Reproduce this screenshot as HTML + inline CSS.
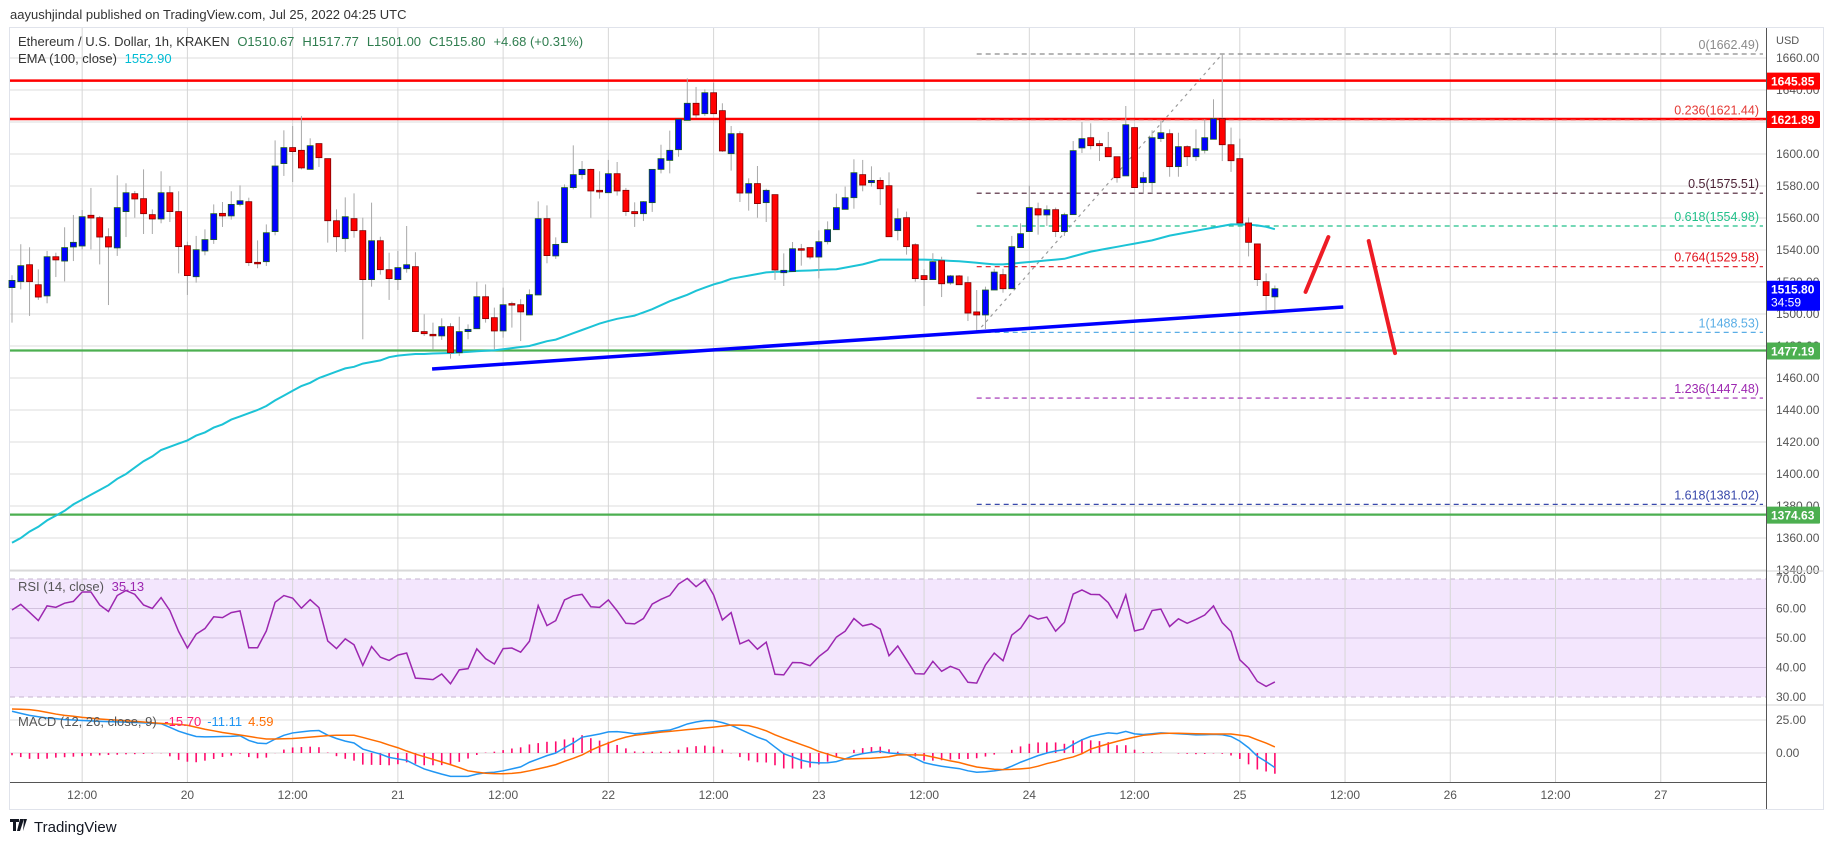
<!DOCTYPE html>
<html><head><meta charset="utf-8"><style>
html,body{margin:0;padding:0;background:#fff;}
svg{display:block;font-family:"Liberation Sans",sans-serif;}
</style></head><body>
<svg id="chart" width="1834" height="845" viewBox="0 0 1834 845" xmlns="http://www.w3.org/2000/svg">
<text x="10" y="19" font-size="13" fill="#333">aayushjindal published on TradingView.com, Jul 25, 2022 04:25 UTC</text>
<rect x="9.5" y="27.5" width="1814" height="782" fill="#fff" stroke="#e0e3eb"/>
<rect x="10" y="571" width="1756" height="134" fill="none"/>
<rect x="10" y="579" width="1756" height="118" fill="#f3e6fd"/>
<g id="grid"></g>
<g id="main"></g>
<g id="rsi"></g>
<g id="macd"></g>
<g id="axes"></g>
<line x1="10" y1="571" x2="1823" y2="571" stroke="#d6d6d6"/>
<line x1="10" y1="705" x2="1823" y2="705" stroke="#d6d6d6"/>
<line x1="10" y1="782.5" x2="1766" y2="782.5" stroke="#555"/>
<line x1="1766.5" y1="28" x2="1766.5" y2="809" stroke="#555"/>
<text x="18" y="46" font-size="13" fill="#333">Ethereum / U.S. Dollar, 1h, KRAKEN <tspan fill="#2f7d4f" dx="4">O1510.67</tspan><tspan fill="#2f7d4f" dx="8">H1517.77</tspan><tspan fill="#2f7d4f" dx="8">L1501.00</tspan><tspan fill="#2f7d4f" dx="8">C1515.80</tspan><tspan fill="#2f7d4f" dx="8">+4.68 (+0.31%)</tspan></text>
<text x="18" y="63" font-size="13" fill="#333">EMA (100, close) <tspan fill="#00bcd4" dx="4">1552.90</tspan></text>
<text x="18" y="591" font-size="13" fill="#555">RSI (14, close) <tspan fill="#9c27b0" dx="4">35.13</tspan></text>
<text x="18" y="726" font-size="13" fill="#555">MACD (12, 26, close, 9) <tspan fill="#ff1a75" dx="4">-15.70</tspan><tspan fill="#2196f3" dx="6">-11.11</tspan><tspan fill="#ff6d00" dx="6">4.59</tspan></text>
<g>
<path d="M10 819 h9 v3 h-3 v9 h-3 v-9 h-3z M20 819 h4 l-4 12 h-3z M24 819 h3 l-4 12z" fill="#131722"/>
<text x="34" y="832" font-size="15" fill="#131722">TradingView</text>
</g>
</svg>
<script>
const opens=[1516.5,1520.2,1530.8,1518.3,1511.3,1535.8,1533.1,1541.9,1542.5,1561.7,1560.2,1548.3,1541.3,1564.0,1575.2,1572.1,1562.1,1559.4,1575.8,1564.0,1542.7,1523.3,1539.4,1546.5,1562.9,1561.3,1568.5,1570.2,1532.3,1532.7,1551.5,1594.0,1604.0,1602.3,1590.4,1606.5,1597.1,1558.3,1547.1,1559.6,1552.1,1521.5,1545.8,1527.7,1521.5,1528.3,1529.6,1489.0,1487.3,1486.3,1492.1,1475.8,1489.0,1490.8,1510.8,1497.7,1489.4,1506.5,1505.8,1499.4,1511.9,1559.6,1536.3,1544.6,1579.0,1587.1,1590.4,1577.3,1575.8,1587.7,1577.3,1564.0,1562.7,1569.6,1590.4,1596.0,1602.7,1621.0,1631.7,1625.2,1638.3,1627.1,1600.2,1612.7,1575.6,1581.5,1569.6,1574.6,1525.8,1526.5,1540.8,1541.5,1535.6,1545.2,1552.7,1565.4,1572.7,1587.1,1582.1,1583.5,1580.2,1552.1,1560.2,1543.3,1524.0,1521.5,1533.3,1519.4,1523.8,1519.6,1501.3,1499.4,1515.0,1524.6,1515.8,1541.5,1551.5,1565.8,1561.9,1565.2,1551.5,1562.1,1603.8,1610.2,1606.5,1604.0,1598.3,1586.3,1616.5,1582.1,1582.1,1609.6,1612.7,1592.1,1604.6,1598.3,1602.3,1609.2,1622.1,1605.8,1597.1,1556.9,1543.8,1520.2,1510.7];
const highs=[1524.2,1543.6,1541.7,1527.9,1539.4,1538.3,1554.2,1561.9,1565.0,1578.8,1561.3,1553.6,1586.7,1581.7,1576.9,1590.4,1565.4,1589.2,1580.0,1576.7,1545.2,1548.8,1552.9,1568.5,1570.0,1576.7,1580.4,1572.7,1546.0,1556.0,1608.5,1614.8,1617.5,1623.8,1609.8,1606.5,1597.1,1565.4,1572.9,1575.4,1560.2,1569.6,1548.3,1538.3,1539.4,1555.0,1538.6,1499.8,1494.6,1497.3,1494.2,1498.3,1493.5,1520.2,1518.5,1504.0,1516.5,1507.7,1509.2,1515.4,1570.4,1567.9,1547.9,1581.0,1605.4,1595.6,1590.8,1589.2,1596.3,1595.0,1578.8,1569.8,1570.6,1590.4,1605.8,1614.6,1621.7,1647.3,1641.9,1640.4,1644.6,1631.7,1617.5,1614.2,1584.8,1592.5,1578.3,1574.6,1537.9,1545.0,1543.8,1541.5,1552.3,1557.9,1575.2,1579.6,1596.7,1596.3,1592.3,1585.4,1588.5,1566.0,1564.0,1544.2,1528.0,1538.0,1535.8,1524.4,1524.4,1523.5,1515.0,1517.1,1528.3,1528.3,1548.8,1556.7,1580.2,1569.6,1567.9,1566.5,1563.3,1608.1,1620.0,1619.2,1608.5,1613.8,1598.3,1630.0,1616.5,1588.8,1614.8,1620.6,1615.4,1613.3,1605.4,1615.4,1621.7,1634.2,1662.5,1616.5,1609.6,1560.4,1543.8,1525.4,1517.8];
const lows=[1494.6,1515.4,1498.8,1508.8,1506.7,1523.1,1520.4,1533.1,1540.4,1540.4,1531.0,1505.6,1536.3,1548.1,1560.2,1550.0,1550.0,1556.7,1557.5,1525.4,1511.9,1519.6,1536.7,1543.8,1554.4,1559.0,1567.3,1530.0,1528.6,1530.0,1549.2,1586.3,1582.5,1590.4,1590.4,1591.9,1544.6,1538.8,1538.8,1547.7,1484.2,1517.1,1524.6,1508.8,1515.0,1525.8,1489.0,1486.3,1478.0,1483.8,1472.1,1473.8,1484.2,1490.8,1494.6,1478.0,1485.2,1491.5,1483.1,1499.4,1511.9,1531.7,1534.4,1544.6,1577.9,1584.2,1560.2,1572.1,1575.8,1574.0,1561.3,1554.4,1558.1,1563.8,1587.9,1587.9,1598.3,1621.0,1622.7,1623.8,1625.2,1601.3,1589.6,1570.0,1564.6,1560.2,1557.5,1521.3,1517.5,1526.5,1530.2,1534.2,1522.3,1543.5,1552.7,1565.4,1565.8,1576.7,1579.6,1568.1,1548.3,1546.0,1537.1,1520.2,1505.0,1521.5,1510.6,1518.3,1518.3,1495.6,1488.5,1490.6,1515.0,1513.3,1515.8,1541.5,1551.5,1549.6,1555.0,1548.1,1548.8,1562.1,1600.6,1602.9,1595.6,1598.3,1582.1,1586.3,1579.0,1575.0,1575.4,1607.5,1585.8,1585.8,1592.5,1595.6,1600.4,1609.2,1595.6,1588.8,1556.9,1536.0,1517.5,1502.5,1501.0];
const closes=[1521.0,1530.2,1520.2,1510.6,1535.8,1533.8,1541.5,1544.8,1560.8,1560.0,1548.1,1541.9,1566.5,1575.8,1571.9,1562.7,1559.4,1575.8,1564.0,1542.1,1524.0,1540.2,1546.5,1562.7,1561.3,1568.5,1570.8,1532.1,1531.5,1550.8,1592.5,1604.0,1601.5,1591.3,1605.2,1597.7,1558.3,1548.3,1560.8,1552.1,1521.5,1545.8,1527.7,1522.1,1529.0,1530.8,1489.0,1487.7,1486.5,1492.1,1475.8,1489.0,1490.4,1510.8,1497.1,1489.4,1505.8,1506.3,1501.3,1512.1,1559.6,1536.5,1543.5,1579.0,1587.1,1590.4,1576.9,1576.3,1587.7,1576.9,1564.0,1562.7,1570.2,1590.4,1597.1,1602.3,1621.7,1631.7,1624.4,1638.3,1625.2,1601.9,1612.7,1575.6,1581.5,1569.0,1577.3,1527.5,1527.3,1540.8,1540.0,1535.6,1545.2,1552.7,1566.5,1572.7,1588.3,1580.6,1583.5,1578.3,1548.3,1559.6,1542.1,1522.1,1521.5,1532.7,1518.9,1523.8,1518.3,1500.6,1499.4,1515.0,1526.2,1515.8,1542.1,1550.2,1566.5,1561.9,1565.2,1551.5,1562.1,1602.1,1609.6,1605.2,1605.2,1598.3,1585.2,1618.3,1579.0,1585.2,1610.2,1613.3,1592.1,1604.6,1598.3,1603.3,1610.2,1622.1,1605.8,1595.8,1556.9,1544.8,1521.5,1511.5,1515.8];
const ema=[1357,1360,1364,1367,1371,1374,1377,1381,1384,1387,1390,1393,1397,1400,1404,1408,1411,1415,1417,1419,1421,1424,1426,1429,1431,1434,1436,1438,1440,1442.5,1446,1449,1452,1455,1457,1460,1462,1464,1466,1467,1469,1470,1471,1473,1474,1474.5,1475,1475,1475.3,1475.5,1475.6,1476,1476.3,1476.7,1477,1477.3,1478,1478.7,1479.4,1480,1481.5,1483,1484,1486,1488,1490,1492,1494,1495.6,1497,1498,1499,1501,1503,1505.5,1508,1510,1512,1514.5,1516.5,1518.5,1520,1522,1523,1524,1525,1526,1526.3,1526.5,1526.8,1527,1527.2,1527.5,1527.8,1528,1529,1530,1531,1532.5,1534,1534,1534,1534,1534,1534,1533.8,1533.5,1533.2,1533,1532.5,1532,1531.5,1531,1531,1531.5,1532,1532.5,1533,1533.5,1534,1534.5,1536,1537.5,1539,1540,1541,1542,1543,1544,1545,1546,1547.5,1549,1550,1551,1552,1553,1554,1555,1556,1556,1555.8,1555.4,1554.5,1553];
const rsi=[59.5,61.4,58.7,55.9,60.9,60.4,61.8,62.4,65.6,65.6,61.2,59.0,64.4,66.1,64.8,61.2,60.0,63.7,59.3,52.2,46.6,51.3,53.2,57.2,56.9,58.6,59.2,46.7,46.7,52.4,62.1,64.4,63.5,60.1,63.0,60.3,49.0,46.4,49.7,47.7,40.7,47.1,43.5,42.4,44.2,44.9,36.4,36.2,35.9,37.8,34.5,39.2,39.6,46.3,43.0,41.2,46.4,46.6,45.2,48.9,61.0,54.2,55.9,62.9,64.3,64.8,60.6,60.4,62.9,59.2,55.0,54.8,56.6,61.5,63.1,64.4,68.3,70.2,67.4,69.7,64.6,56.1,58.6,48.0,49.3,46.2,48.6,37.7,37.5,41.7,41.6,40.6,43.7,46.0,50.3,52.3,56.6,54.1,54.8,53.0,44.0,47.3,42.6,37.9,37.8,42.1,38.7,40.4,39.2,35.0,34.7,40.9,44.9,42.3,51.0,53.3,57.7,56.4,57.1,52.3,55.3,64.9,66.3,64.8,64.7,62.0,56.9,64.6,52.4,53.1,59.3,59.8,53.9,56.5,55.0,56.3,57.8,60.9,55.2,52.2,42.6,39.8,35.3,33.6,35.1];
const macdLine=[31.6,30,28.5,27.5,26.5,26,25.3,25,24.6,24.3,24,23.8,23.6,23.4,23.1,22.8,22.5,22.2,19.5,16.5,14.4,12.5,12.2,12.3,12.5,12.6,13.1,9.5,7.5,7.1,10.5,13.4,15.2,16,16.8,17,13.5,11,9,7.6,3,1,-0.8,-3.3,-4.5,-5.6,-9,-12.1,-14.1,-16,-17.7,-17.7,-17.7,-16,-15,-14.6,-13.5,-12,-10.5,-7,-4.5,-2,0,4,7.6,12,13.2,14.4,16,16.2,15.5,14.6,15.2,16,16.8,17.4,19.5,22,23.5,24.5,24.5,23,21,18,15,12,9.6,4.5,-0.5,-3,-5.5,-7,-7.5,-7.4,-6.5,-4.5,-2,-0.5,0.5,1.3,0,-0.5,-1.3,-4,-7.3,-8.8,-10,-11,-11.8,-13.5,-14.6,-14.2,-13.5,-12.6,-10,-7,-4.5,-2,0,1.5,2.5,6.5,10,12.6,14,15.2,14.7,16.4,14.5,14,14.6,15.2,15,14.6,14.2,13.7,13.8,14.1,13.8,12.5,9,4,-2.5,-6.5,-11.1];
const signalLine=[33.3,33.1,32.9,32,30.8,29.5,28.5,27.8,27,26.4,25.8,25.3,24.9,24.4,24,23.5,22.9,22.4,22,21.7,21,19.5,18,16.8,15.5,14.6,13.6,12.6,11.5,10.6,10.6,10.8,11,11.5,12,12.6,13.2,13.4,13.4,13.4,11.8,10,8.3,6,4,1.5,-0.8,-2.8,-4.8,-6.8,-8.8,-11,-13.5,-14.5,-15.3,-15.6,-15.7,-15.4,-14.8,-13.5,-12,-10.5,-8.8,-6.3,-4,-1.5,2,5,7.5,10.1,12,13.4,14.2,15,15.8,16.4,17,17.7,18.3,18.9,19.6,20.4,21.2,21.1,20.7,19,16.8,13.8,11.2,8.8,6.4,4,1.2,-0.8,-3,-4.5,-4.4,-4.2,-4,-3.5,-2.8,-1.5,-1.4,-1.4,-1.6,-3,-4.5,-6,-7.2,-9,-10.6,-11.5,-12.3,-12.6,-12.4,-12,-11.5,-10,-8,-6.5,-4.5,-3,-0.5,3,5,7,8.8,10.5,12,13.4,14,14.8,15,15,14.8,14.6,14.5,14.4,14.4,14.4,13.5,12.6,10,7.5,4.6];
const priceTicks=[1340,1360,1380,1400,1420,1440,1460,1480,1500,1520,1540,1560,1580,1600,1620,1640,1660];
const rsiTicks=[30,40,50,60,70];
const macdTicks=[0,25];
const timeTicks=[[8,"12:00"],[20,"20"],[32,"12:00"],[44,"21"],[56,"12:00"],[68,"22"],[80,"12:00"],[92,"23"],[104,"12:00"],[116,"24"],[128,"12:00"],[140,"25"],[152,"12:00"],[164,"26"],[176,"12:00"],[188,"27"]];
const hLevels=[[1645.85,"#ff0000","resistance-1645"],[1621.89,"#ff0000","resistance-1621"],[1477.19,"#4caf50","support-1477"],[1374.63,"#4caf50","support-1374"]];
const fibLow=1488.53, fibHigh=1662.49, fibStartIdx=110, fibEndIdx=138;
const fibLevels=[0,0.236,0.5,0.618,0.764,1,1.236,1.618];
const fibColors=["#8a8a8a","#e53935","#4a1f33","#22c08a","#e0101a","#5aaee6","#9c27b0","#3949ab"];
const trendline=[[47.9,1465.6],[151.8,1504.4]];
const arrows=[[[147.5,1513.8],[150.1,1548.1]],[[154.7,1545.6],[157.7,1475.6]]];

const NS="http://www.w3.org/2000/svg";
const X=i=>12+8.77*i;
const Y=p=>154+(1600-p)*1.6;
const RY=v=>579+(70-v)*2.95;
const MY=v=>753-v*1.32;
function mk(tag,attrs,parent,txt){const e=document.createElementNS(NS,tag);for(const k in attrs)e.setAttribute(k,attrs[k]);if(txt!==undefined)e.textContent=txt;parent.appendChild(e);return e;}
const grid=document.getElementById('grid'),main=document.getElementById('main'),rsiG=document.getElementById('rsi'),macdG=document.getElementById('macd'),axes=document.getElementById('axes');

// grid
priceTicks.forEach(p=>{const l=mk('line',{x1:10,x2:1766,y1:Y(p),y2:Y(p),stroke:'#dcdcdc'},grid);


const t=mk('text',{x:1776,y:Y(p)+4,'font-size':12,fill:'#555'},axes,p.toFixed(2));

});
rsiTicks.forEach(v=>{const l=mk('line',{x1:10,x2:1766,y1:RY(v),y2:RY(v),stroke:(v==30||v==70)?'#c4b4cf':'#d2c2de','stroke-dasharray':(v==30||v==70)?'5,4':''},grid);


const t=mk('text',{x:1776,y:RY(v)+4,'font-size':12,fill:'#555'},axes,v.toFixed(2));

});
macdTicks.forEach(v=>{const l=mk('line',{x1:10,x2:1766,y1:MY(v),y2:MY(v),stroke:'#dcdcdc'},grid);


const t=mk('text',{x:1776,y:MY(v)+4,'font-size':12,fill:'#555'},axes,v.toFixed(2));

});
timeTicks.forEach(([i,lab])=>{const l=mk('line',{x1:X(i),x2:X(i),y1:28,y2:782,stroke:'#d6d6d6'},grid);


const t=mk('text',{x:X(i),y:799,'font-size':12,fill:'#555','text-anchor':'middle'},axes,lab);

});
const usd=mk('text',{x:1776,y:44,'font-size':11,fill:'#555'},axes,'USD');



// horizontal levels
hLevels.forEach(([p,c,n])=>{const l=mk('line',{x1:10,x2:1766,y1:Y(p),y2:Y(p),stroke:c,'stroke-width':c=='#ff0000'?2.5:2.2},main);

});

// fib
const fr=fibHigh-fibLow;
fibLevels.forEach((lv,k)=>{const p=fibHigh-lv*fr;
const l=mk('line',{x1:X(fibStartIdx),x2:1763,y1:Y(p),y2:Y(p),stroke:fibColors[k],'stroke-dasharray':'5,4','stroke-width':1.2},main);


const t=mk('text',{x:1759,y:Y(p)-5,'font-size':12.5,fill:fibColors[k],'text-anchor':'end'},main,lv+'('+p.toFixed(2)+')');

});
const fd=mk('line',{x1:X(fibStartIdx),y1:Y(fibLow),x2:X(fibEndIdx),y2:Y(fibHigh),stroke:'#999','stroke-dasharray':'3,4','stroke-width':1.2},main);



// ema
const emaP=mk('polyline',{points:ema.map((v,i)=>X(i)+','+Y(v)).join(' '),fill:'none',stroke:'#1cc3d6','stroke-width':2},main);



// candles
closes.forEach((c,i)=>{const o=opens[i],up=c>=o,x=X(i);
const g=mk('g',{},main);


mk('line',{x1:x,x2:x,y1:Y(highs[i]),y2:Y(lows[i]),stroke:'#a8a8a8','stroke-width':1},g);
const top=Y(Math.max(o,c)),h=Math.max(1.5,Math.abs(Y(o)-Y(c)));
mk('rect',{x:x-3,y:top,width:6,height:h,fill:up?'#0000ff':'#ff0000',stroke:up?'#1b5e20':'#7f0000','stroke-width':0.8},g);});

// trendline and arrows
const tl=mk('line',{x1:X(trendline[0][0]),y1:Y(trendline[0][1]),x2:X(trendline[1][0]),y2:Y(trendline[1][1]),stroke:'#0000ff','stroke-width':3.5},main);


arrows.forEach(a=>{const l=mk('line',{x1:X(a[0][0]),y1:Y(a[0][1]),x2:X(a[1][0]),y2:Y(a[1][1]),stroke:'#ee1c25','stroke-width':4,'stroke-linecap':'round'},main);

});

// rsi
const rp=mk('polyline',{points:rsi.map((v,i)=>X(i)+','+RY(v)).join(' '),fill:'none',stroke:'#9c27b0','stroke-width':1.5},rsiG);



// macd
macdLine.forEach((m,i)=>{const h=m-signalLine[i];
const b=mk('line',{x1:X(i),x2:X(i),y1:MY(0),y2:MY(h),stroke:'#ff0a6c','stroke-width':1.6},macdG);

});
const mp=mk('polyline',{points:macdLine.map((v,i)=>X(i)+','+MY(v)).join(' '),fill:'none',stroke:'#2196f3','stroke-width':1.5},macdG);


const sp=mk('polyline',{points:signalLine.map((v,i)=>X(i)+','+MY(v)).join(' '),fill:'none',stroke:'#ff6d00','stroke-width':1.5},macdG);



// axis price labels
function tag(p,bg,txt,name,h){const g=mk('g',{},axes);


mk('rect',{x:1766,y:Y(p)-8,width:54,height:h||17,fill:bg,rx:1},g);
mk('text',{x:1771,y:Y(p)+5,'font-size':12,'font-weight':'bold',fill:'#fff'},g,txt);return g;}
hLevels.forEach(([p,c,n])=>tag(p,c,p.toFixed(2),n+'-price-tag'));
const last=closes[closes.length-1];
const lt=tag(last,'#0000ff',last.toFixed(2),'last-price-tag',30);
mk('text',{x:1771,y:Y(last)+18,'font-size':12,fill:'#fff'},lt,'34:59');
</script>
</body></html>
